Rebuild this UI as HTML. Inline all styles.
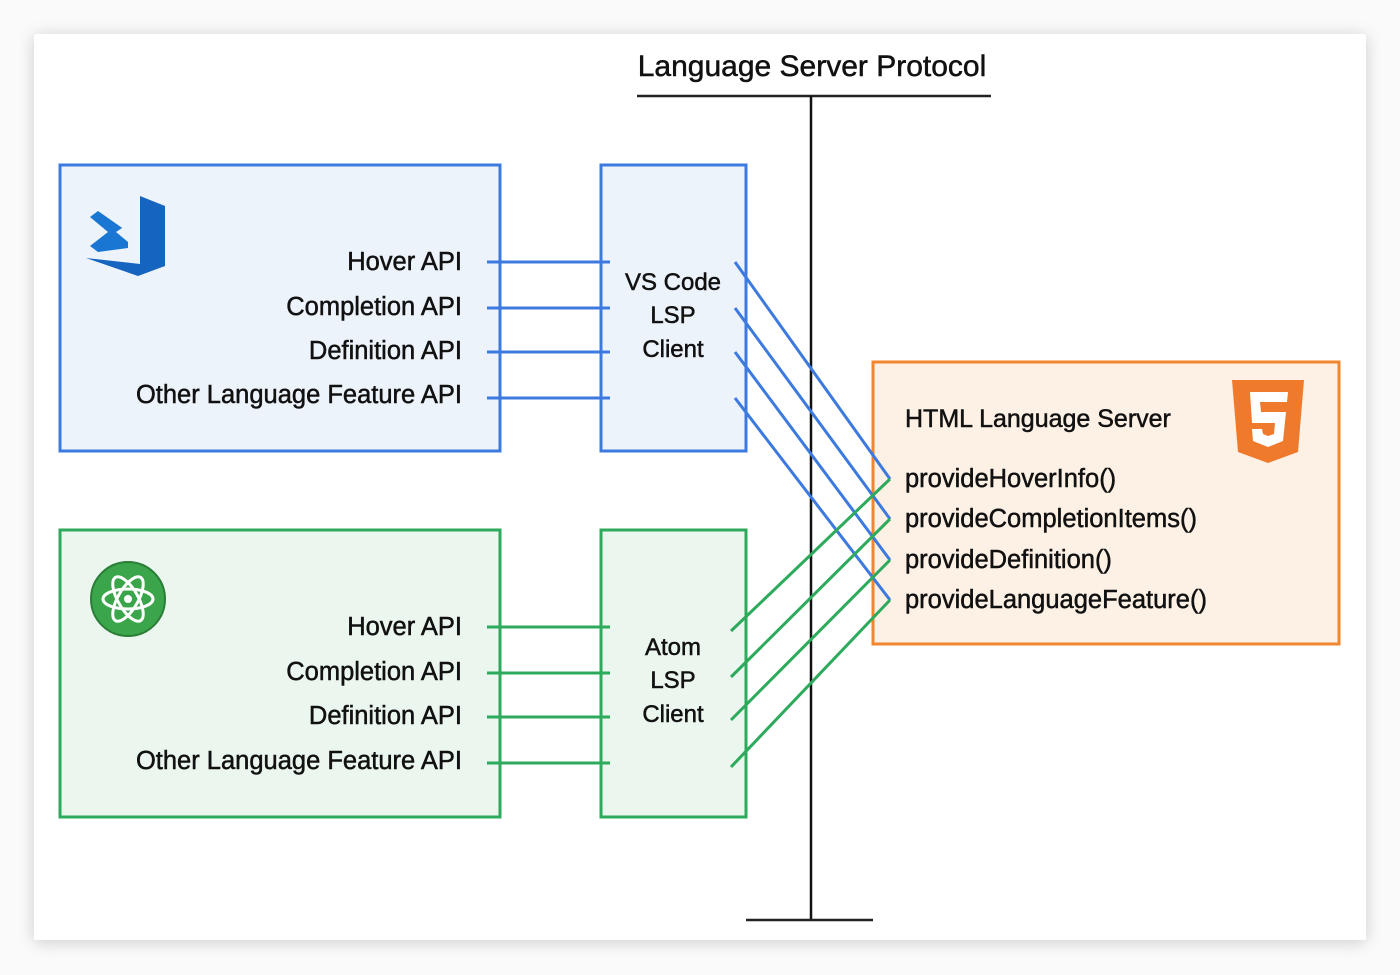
<!DOCTYPE html>
<html><head><style>
body{margin:0;width:1400px;height:975px;background:#fafafa;overflow:hidden}
svg{display:block}
text{font-family:"Liberation Sans",sans-serif;fill:#111;stroke:#111;stroke-width:0.5}
</style></head><body>
<svg width="1400" height="975" viewBox="0 0 1400 975">
<defs><filter id="sh" x="-5%" y="-5%" width="110%" height="110%"><feGaussianBlur stdDeviation="8"/></filter></defs>
<rect x="34" y="36" width="1332" height="906" fill="#ccc" filter="url(#sh)"/>
<rect x="34" y="34" width="1332" height="906" fill="#fff"/>
<text x="812" y="76" font-size="30" text-anchor="middle">Language Server Protocol</text>
<line x1="637" y1="96" x2="991" y2="96" stroke="#222" stroke-width="2.5"/>
<line x1="811" y1="96" x2="811" y2="920" stroke="#111" stroke-width="2.5"/>
<line x1="746" y1="920" x2="873" y2="920" stroke="#222" stroke-width="2.5"/>
<!-- blue -->
<rect x="60" y="165" width="440" height="286" fill="#edf3fb" stroke="#3d7ae0" stroke-width="3"/>
<rect x="601" y="165" width="145" height="286" fill="#edf3fb" stroke="#3d7ae0" stroke-width="3"/>
<path d="M140 196 L165 206 L165 266 L138 276 L86 258 L140 264 Z" fill="#1565c0"/>
<path d="M90 217 L98 211 L128 232 L128 248 L98 252 L90 246 L108 232 Z" fill="#1976d2"/>
<path d="M116 232 L128 224 L128 242 Z" fill="#edf3fb"/>
<g font-size="25.5" text-anchor="end">
<text x="462" y="270">Hover API</text><text x="462" y="315">Completion API</text>
<text x="462" y="359">Definition API</text><text x="462" y="403">Other Language Feature API</text>
</g>
<g font-size="24" text-anchor="middle"><text x="673" y="290">VS Code</text><text x="673" y="323">LSP</text><text x="673" y="357">Client</text></g>
<g stroke="#3d7ae0" stroke-width="3">
<line x1="487" y1="262" x2="610" y2="262"/><line x1="487" y1="308" x2="610" y2="308"/>
<line x1="487" y1="352" x2="610" y2="352"/><line x1="487" y1="398" x2="610" y2="398"/>
</g>
<!-- green -->
<rect x="60" y="530" width="440" height="287" fill="#ebf6ef" stroke="#2eaa5c" stroke-width="3"/>
<rect x="601" y="530" width="145" height="287" fill="#ebf6ef" stroke="#2eaa5c" stroke-width="3"/>
<circle cx="128" cy="599" r="37" fill="#3aa54a"/><circle cx="128" cy="599" r="37" fill="none" stroke="#2b7d37" stroke-width="2"/>
<g fill="none" stroke="#fff" stroke-width="3"><ellipse cx="128" cy="599" rx="25" ry="10"/><ellipse cx="128" cy="599" rx="25" ry="10" transform="rotate(60 128 599)"/><ellipse cx="128" cy="599" rx="25" ry="10" transform="rotate(-60 128 599)"/></g>
<circle cx="128" cy="599" r="4" fill="#fff"/>
<g font-size="25.5" text-anchor="end">
<text x="462" y="635">Hover API</text><text x="462" y="680">Completion API</text>
<text x="462" y="724">Definition API</text><text x="462" y="769">Other Language Feature API</text>
</g>
<g font-size="24" text-anchor="middle"><text x="673" y="655">Atom</text><text x="673" y="688">LSP</text><text x="673" y="722">Client</text></g>
<g stroke="#2eaa5c" stroke-width="3">
<line x1="487" y1="627" x2="610" y2="627"/><line x1="487" y1="673" x2="610" y2="673"/>
<line x1="487" y1="717" x2="610" y2="717"/><line x1="487" y1="763" x2="610" y2="763"/>
</g>
<!-- orange -->
<rect x="873" y="362" width="466" height="282" fill="#fdf0e5" stroke="#f0862e" stroke-width="3"/>
<text x="905" y="427" font-size="25">HTML Language Server</text>
<path d="M1232 380 L1304 380 L1298 452 L1268 463 L1238 452 Z" fill="#f07a2c"/>
<path d="M1250 392 L1288 392 L1287 402 L1260 402 L1261 412 L1286 412 L1283 441 L1268 447 L1253 441 L1252 429 L1262 429 L1263 434 L1268 436 L1274 434 L1275 423 L1252 423 Z" fill="#fff"/>
<g font-size="25.5"><text x="905" y="487">provideHoverInfo()</text><text x="905" y="527">provideCompletionItems()</text>
<text x="905" y="568">provideDefinition()</text><text x="905" y="608">provideLanguageFeature()</text></g>
<g stroke="#3d7ae0" stroke-width="3">
<line x1="735" y1="262" x2="890" y2="479"/><line x1="735" y1="308" x2="890" y2="519"/>
<line x1="735" y1="352" x2="890" y2="560"/><line x1="735" y1="398" x2="890" y2="600"/>
</g>
<g stroke="#2eaa5c" stroke-width="3">
<line x1="731" y1="631" x2="890" y2="479"/><line x1="731" y1="677" x2="890" y2="519"/>
<line x1="731" y1="720" x2="890" y2="560"/><line x1="731" y1="767" x2="890" y2="600"/>
</g>
</svg>
</body></html>
